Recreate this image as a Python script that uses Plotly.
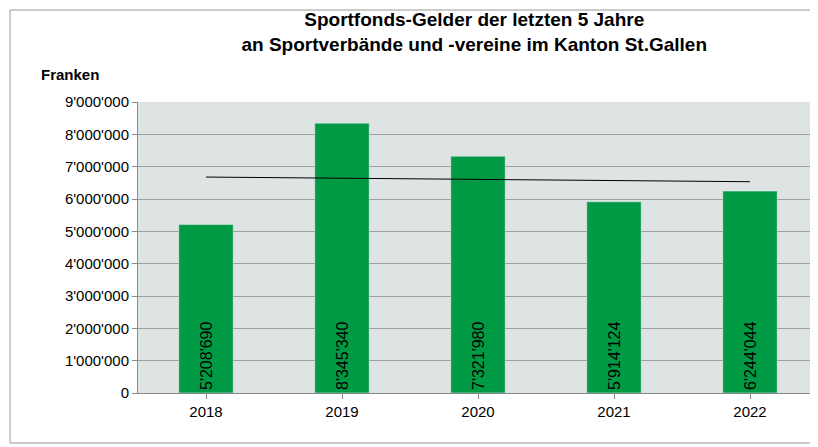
import numpy as np
import plotly.graph_objects as go

years = ["2018", "2019", "2020", "2021", "2022"]
betraege = [5208690, 8345340, 7321980, 5914124, 6244044]

labels = ["{:,}".format(v).replace(",", "'") for v in betraege]
xi = np.arange(len(years))
k, d = np.polyfit(xi, betraege, 1)
trend = k * xi + d

fig = go.Figure()
fig.add_trace(go.Bar(x=years, y=betraege, width=0.4, marker_color="#009a44",
                     text=labels, textposition="inside", insidetextanchor="start",
                     textangle=-90, textfont=dict(size=16, color="black"),
                     showlegend=False, hoverinfo="skip"))
fig.add_trace(go.Scatter(x=years, y=trend, mode="lines", line=dict(color="black", width=1),
                         showlegend=False, hoverinfo="skip"))

W, H = 818, 447
ml, mr, mt, mb = 130, 8, 94, 62
pw, ph = W - ml - mr, H - mt - mb
fig.add_shape(type="rect", xref="paper", yref="paper",
              x0=-(ml - 2) / pw, x1=1 + (mr - 4) / pw, y0=-(mb - 12) / ph, y1=1 + (mt - 2) / ph,
              line=dict(color="#999999", width=1))

fig.update_layout(
    width=W, height=H, margin=dict(l=ml, r=mr, t=mt, b=mb),
    paper_bgcolor="white", plot_bgcolor="#dde4e3",
    font=dict(family="Liberation Sans, Arial", size=15, color="black"),
    separators=".'",
    title=dict(text="<b>Sportfonds-Gelder der letzten 5 Jahre<br>an Sportverbände und -vereine im Kanton St.Gallen</b>",
               x=0.57, xanchor="center", y=0.96, yanchor="top", font=dict(size=19)),
    xaxis=dict(showgrid=False, showline=True, linecolor="#888888", ticks="outside",
               tickcolor="#888888"),
    yaxis=dict(range=[0, 9000000], dtick=1000000, tickformat=",d", gridcolor="#a0a0a0",
               showline=True, linecolor="#888888", ticks="outside", tickcolor="#888888",
               zeroline=False),
    bargap=0.6,
    annotations=[dict(text="<b>Franken</b>", xref="paper", yref="paper", x=-0.1, y=1.06,
                      xanchor="center", yanchor="bottom", showarrow=False, font=dict(size=15))],
)
fig.write_html("out.html")
